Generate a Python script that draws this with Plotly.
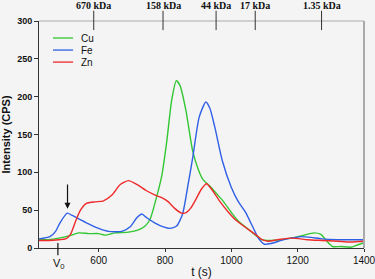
import plotly.graph_objects as go

# ---- data ----
cu_t = [420, 450, 480, 510, 540, 570, 600, 620, 650, 690, 720, 740, 755, 770, 790, 805, 820, 834, 845, 863, 883, 900, 915, 935, 955, 975, 1000, 1020, 1050, 1070, 1090, 1120, 1150, 1180, 1210, 1250, 1270, 1290, 1305, 1330, 1360, 1380, 1400]
cu_i = [11, 11, 13, 16, 20, 19, 19, 17, 20, 21, 24, 29, 38, 60, 95, 140, 195, 221, 215, 182, 129, 104, 90, 82, 72, 62, 47, 36, 25, 18, 11, 10, 11, 13, 16, 20, 18, 8, 2, 2, 1, 4, 7]

fe_t = [420, 453, 470, 483, 505, 520, 560, 600, 630, 670, 695, 715, 730, 745, 770, 795, 815, 835, 853, 870, 883, 903, 923, 935, 950, 973, 1000, 1020, 1043, 1060, 1083, 1100, 1120, 1150, 1180, 1210, 1240, 1273, 1320, 1400]
fe_i = [12, 15, 22, 33, 46, 43, 34, 26, 22, 22, 28, 40, 45, 40, 33, 28, 26, 29, 45, 85, 118, 173, 193, 185, 160, 115, 80, 62, 47, 32, 12, 5, 6, 10, 13, 15, 14, 12, 11, 11]

zn_t = [420, 450, 480, 500, 515, 530, 545, 563, 590, 613, 640, 665, 690, 715, 743, 770, 793, 810, 830, 850, 865, 878, 895, 910, 925, 940, 963, 990, 1013, 1053, 1075, 1093, 1110, 1140, 1183, 1230, 1273, 1320, 1360, 1400]
zn_i = [10, 10, 11, 12, 18, 35, 50, 59, 61, 62, 70, 84, 89, 84, 76, 70, 66, 61, 52, 46, 47, 53, 66, 78, 85, 78, 63, 48, 37, 24, 17, 11, 9, 11, 13, 11, 10, 9, 8, 9]

series_names = ["Cu", "Fe", "Zn"]
series_colors = ["#33c633", "#2f5fe6", "#ee2a2a"]

kda_pos = [585, 794, 954, 1072, 1272]
kda_labels = ["670 kDa", "158 kDa", "44 kDa", "17 kDa", "1.35 kDa"]

x_ticks = [600, 800, 1000, 1200, 1400]
y_ticks = [0, 50, 100, 150, 200, 250, 300]

v0_t = 477
arrow_t = 506
arrow_tip = 52
arrow_tail = 86

# ---- figure ----
fig = go.Figure()
for name, tt, ii, col in zip(series_names, [cu_t, fe_t, zn_t], [cu_i, fe_i, zn_i], series_colors):
    fig.add_trace(go.Scatter(x=tt, y=ii, mode="lines", name=name, showlegend=False,
                             line=dict(color=col, width=1.4, shape="spline", smoothing=0.6)))

bg = "#f4f4f4"
fig.update_layout(
    width=375, height=279,
    margin=dict(l=39, r=11, t=21, b=31, autoexpand=False),
    paper_bgcolor=bg, plot_bgcolor=bg,
    font=dict(family="Liberation Sans, Arial", color="#111"),
    showlegend=False,
    xaxis=dict(range=[420, 1400], tickvals=x_ticks, ticktext=[str(v) for v in x_ticks],
               automargin=False, ticklabeloverflow="allow",
               showgrid=False, zeroline=False, showline=True, linecolor="#333", linewidth=1,
               ticks="outside", ticklen=3, tickcolor="#333",
               tickfont=dict(size=10, family="Liberation Sans, Arial"),
               title=dict(text="t (s)", font=dict(size=12), standoff=2)),
    yaxis=dict(range=[0, 300], tickvals=y_ticks, showgrid=False, zeroline=False,
               automargin=False,
               showline=True, linecolor="#333", linewidth=1,
               ticks="outside", ticklen=4, tickcolor="#333",
               tickfont=dict(size=9, family="Liberation Sans, Arial", weight="bold"),
               title=dict(text="<b>Intensity (CPS)</b>", font=dict(size=11), standoff=5)),
)

# top border and right border
fig.add_shape(type="line", xref="paper", yref="paper", x0=0, x1=1, y0=1, y1=1,
              line=dict(color="#aaaaaa", width=1))
fig.add_shape(type="line", xref="paper", yref="paper", x0=1, x1=1, y0=0, y1=1,
              line=dict(color="#aaaaaa", width=2))

# manual legend
leg_y = [0.925, 0.872, 0.819]
for name, col, yy in zip(series_names, series_colors, leg_y):
    fig.add_shape(type="line", xref="paper", yref="paper", x0=0.043, x1=0.105, y0=yy, y1=yy,
                  line=dict(color=col, width=1.3))
    fig.add_annotation(x=0.123, y=yy, xref="paper", yref="paper", text=name, showarrow=False,
                       xanchor="left", yanchor="middle", font=dict(size=10))

# kDa markers on top
for pos, lab in zip(kda_pos, kda_labels):
    fig.add_shape(type="line", xref="x", yref="paper", x0=pos, x1=pos, y0=0.96, y1=1.045,
                  line=dict(color="#333", width=1))
    fig.add_annotation(x=pos, xref="x", y=1.07, yref="paper", text="<b>" + lab + "</b>",
                       showarrow=False, yanchor="middle",
                       font=dict(size=10, family="Liberation Serif, Times New Roman"))

# V0 marker
fig.add_shape(type="line", xref="x", yref="paper", x0=v0_t, x1=v0_t, y0=-0.032, y1=0.022,
              line=dict(color="#111", width=1.2))
fig.add_annotation(x=v0_t + 4, xref="x", y=-0.03, yref="paper", text="V<sub>0</sub>",
                   showarrow=False, yanchor="top", font=dict(size=11))

# arrow
fig.add_annotation(x=arrow_t, y=arrow_tip, xref="x", yref="y", ax=arrow_t, ay=arrow_tail,
                   axref="x", ayref="y", showarrow=True, arrowhead=2, arrowsize=1,
                   arrowwidth=1.2, arrowcolor="#111", text="")

fig.write_html("out.html", config={"displayModeBar": False},
               post_script="document.body.style.margin='0';document.body.style.background='%s';" % bg)
